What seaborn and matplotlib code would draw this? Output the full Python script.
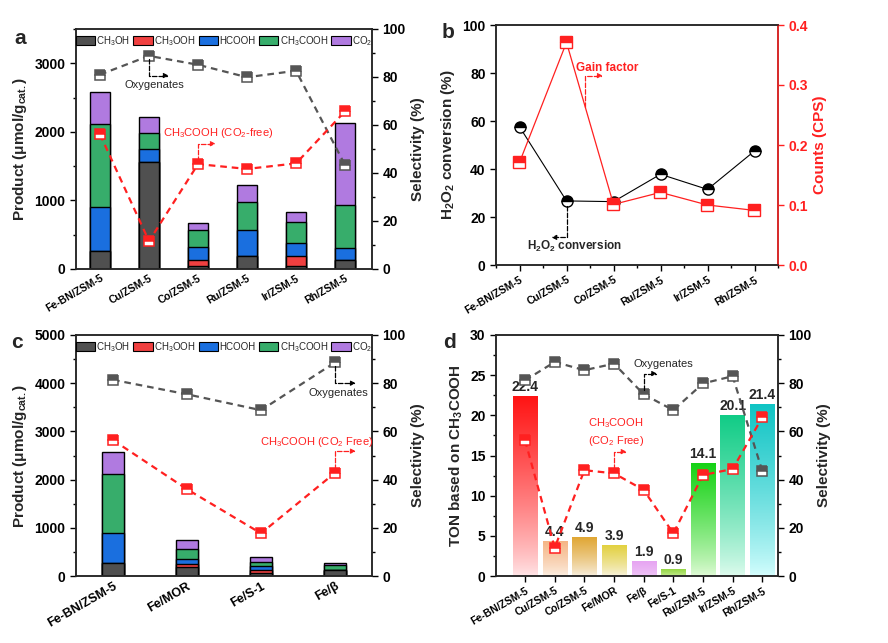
""" plot """

import matplotlib
matplotlib.use("Agg")
import matplotlib.pyplot as plt
import matplotlib.colors as mcolors
from matplotlib.patches import Patch
from matplotlib.ticker import MultipleLocator, FormatStrFormatter
import numpy as np
import seaborn as sns

# ---- data ----
a_cats = ["Fe-BN/ZSM-5", "Cu/ZSM-5", "Co/ZSM-5", "Ru/ZSM-5", "Ir/ZSM-5", "Rh/ZSM-5"]
a_ch3oh = [263, 1556, 49, 185, 49, 131]
a_ch3ooh = [0, 0, 77, 0, 136, 0]
a_hcooh = [637, 189, 190, 379, 189, 170]
a_ch3cooh = [1210, 234, 248, 408, 307, 628]
a_co2 = [472, 233, 107, 253, 146, 1196]
a_sel_oxy = [81.0, 88.8, 85.1, 79.9, 82.6, 43.3]
a_sel_acetic = [56.1, 11.6, 43.7, 41.7, 44.0, 65.7]

b_conv = [57.6, 26.7, 26.4, 37.8, 31.5, 47.5]
b_counts = [0.171, 0.371, 0.101, 0.121, 0.100, 0.091]

c_cats = ["Fe-BN/ZSM-5", "Fe/MOR", "Fe/S-1", "Fe/β"]
c_ch3oh = [263, 193, 69, 130]
c_ch3ooh = [0, 62, 55, 0]
c_hcooh = [637, 104, 90, 0]
c_ch3cooh = [1210, 207, 69, 98]
c_co2 = [472, 172, 117, 35]
c_sel_oxy = [81.4, 75.4, 68.8, 88.6]
c_sel_acetic = [56.4, 36.0, 17.7, 42.8]

d_cats = ["Fe-BN/ZSM-5", "Cu/ZSM-5", "Co/ZSM-5", "Fe/MOR", "Fe/β", "Fe/S-1",
          "Ru/ZSM-5", "Ir/ZSM-5", "Rh/ZSM-5"]
d_ton = [22.4, 4.4, 4.9, 3.9, 1.9, 0.9, 14.1, 20.1, 21.4]
d_sel_oxy = [81.2, 88.8, 85.4, 88.1, 75.4, 68.8, 79.9, 82.9, 43.6]
d_sel_acetic = [56.3, 11.7, 43.9, 42.6, 35.7, 17.7, 41.9, 44.4, 65.8]

products = ["CH$_3$OH", "CH$_3$OOH", "HCOOH", "CH$_3$COOH", "CO$_2$"]
prod_colors = ["#505050", "#f04040", "#1a6fdf", "#37ad6b", "#b07ae0"]
d_top = ["#ff1414", "#f5b483", "#e0a530", "#e2d03c", "#e6a2f2", "#8fd43c",
         "#14d214", "#10cc86", "#10c4c4"]
d_bot = ["#ffe6e8", "#fcf0e4", "#f8f0e2", "#f8f3e0", "#efc6f6", "#c6ec94",
         "#e2fbd8", "#e0fcef", "#d6fefe"]

GRAY = "#555555"
RED = "#ff2020"

sns.set_style("ticks")
plt.rcParams["font.family"] = ["Liberation Sans", "DejaVu Sans"]
plt.rcParams["mathtext.default"] = "regular"
plt.rcParams["axes.linewidth"] = 1.1

fig = plt.figure(figsize=(8.88, 6.43), dpi=100)


def px_axes(left, top, right, bottom):
    """ axes from pixel box """
    return fig.add_axes([left / 888, 1 - bottom / 643,
                         (right - left) / 888, (bottom - top) / 643])


def style_ticks(ax, color="black"):
    """ tick styling """
    ax.tick_params(which="major", length=4, width=1, direction="out",
                   labelsize=10, colors=color)
    ax.tick_params(which="minor", length=2, width=1, direction="out", colors=color)
    for lab in ax.get_yticklabels():
        lab.set_fontweight("bold")


def elbow(ax, start, end, color):
    """ dashed elbow arrow """
    ax.annotate("", xy=end, xytext=start,
                arrowprops=dict(arrowstyle="-|>", color=color, lw=0.9, ls="--",
                                mutation_scale=7, shrinkA=0, shrinkB=0,
                                connectionstyle="angle,angleA=90,angleB=0,rad=0"))


def stacked(ax, cats, layers, width):
    """ stacked bars by overdrawing cumulative sums """
    cum = np.cumsum(np.array(layers), axis=0)
    for i in range(len(layers) - 1, -1, -1):
        sns.barplot(x=cats, y=cum[i], order=cats, color=prod_colors[i], width=width,
                    saturation=1, edgecolor="black", linewidth=1, ax=ax)


def sel_lines(ax2, n, oxy, acetic):
    """ selectivity lines """
    xs = np.arange(n)
    sns.lineplot(x=xs, y=oxy, ax=ax2, color=GRAY, lw=1.6, dashes=False,
                 linestyle=(0, (3, 2.2)), marker="s", ms=7, fillstyle="top",
                 markerfacecoloralt="white", markeredgecolor=GRAY, mew=1.1)
    sns.lineplot(x=xs, y=acetic, ax=ax2, color=RED, lw=1.6, dashes=False,
                 linestyle=(0, (3, 2.2)), marker="s", ms=7, fillstyle="top",
                 markerfacecoloralt="white", markeredgecolor=RED, mew=1.1)


def prod_legend(ax):
    """ product legend """
    handles = [Patch(facecolor=c, edgecolor="black", lw=0.8) for c in prod_colors]
    ax.legend(handles, products, loc="upper center", ncol=5, frameon=False,
              fontsize=7, handlelength=2.0, handleheight=1.0, handletextpad=0.15,
              columnspacing=0.3, borderaxespad=0.3, borderpad=0.2)


def xlabels(ax, cats, pos, size=7.5):
    """ rotated category labels """
    ax.set_xticks(pos)
    ax.set_xticklabels(cats, rotation=30, ha="right", rotation_mode="anchor",
                       fontsize=size, fontweight="bold")
    ax.tick_params(axis="x", pad=3)


# ---- panel a ----
ax = px_axes(76, 29, 372, 269)
stacked(ax, a_cats, [a_ch3oh, a_ch3ooh, a_hcooh, a_ch3cooh, a_co2], 0.39)
ax.set_ylim(0, 3500)
ax.yaxis.set_major_locator(MultipleLocator(1000))
ax.yaxis.set_minor_locator(MultipleLocator(500))
ax.set_ylabel("Product (μmol/g$_{cat.}$)", fontsize=11, fontweight="bold", labelpad=4)
ax.set_xlabel("")
ax2 = ax.twinx()
sel_lines(ax2, 6, a_sel_oxy, a_sel_acetic)
ax2.set_ylim(0, 100)
ax2.yaxis.set_major_locator(MultipleLocator(20))
ax2.yaxis.set_minor_locator(MultipleLocator(10))
ax2.set_ylabel("Selectivity (%)", fontsize=11, fontweight="bold", labelpad=4)
ax.set_xlim(-0.49, 5.55)
style_ticks(ax)
style_ticks(ax2)
ax.tick_params(axis="x", length=0)
xlabels(ax, a_cats, np.arange(6))
prod_legend(ax2)
elbow(ax2, (1.0, 87.3), (1.4, 80.6), "black")
ax2.text(1.1, 76.5, "Oxygenates", fontsize=8, ha="center", va="center")
elbow(ax2, (2.0, 45.2), (2.36, 52.2), RED)
ax2.text(2.42, 56.8, "CH$_3$COOH (CO$_2$-free)", fontsize=8, color=RED,
         ha="center", va="center")

# ---- panel b ----
ax = px_axes(496, 25, 778, 265)
xs = np.arange(6)
sns.lineplot(x=xs, y=b_conv, ax=ax, color="black", lw=0.8, marker="o", ms=8,
             fillstyle="top", markerfacecoloralt="white", markeredgecolor="black",
             mew=1)
ax.set_ylim(0, 100)
ax.yaxis.set_major_locator(MultipleLocator(20))
ax.set_ylabel("H$_2$O$_2$ conversion (%)", fontsize=11, fontweight="bold", labelpad=4)
ax2 = ax.twinx()
sns.lineplot(x=xs, y=b_counts, ax=ax2, color=RED, lw=0.9, marker="s", ms=8,
             fillstyle="top", markerfacecoloralt="white", markeredgecolor=RED, mew=1)
ax2.set_ylim(0, 0.4)
ax2.yaxis.set_major_locator(MultipleLocator(0.1))
ax2.yaxis.set_major_formatter(FormatStrFormatter("%.1f"))
ax2.set_ylabel("Counts (CPS)", fontsize=11, fontweight="bold", color=RED, labelpad=4)
ax2.spines["right"].set_color(RED)
ax.set_xlim(-0.5, 5.5)
ax.xaxis.set_minor_locator(MultipleLocator(0.5))
style_ticks(ax)
style_ticks(ax2, RED)
xlabels(ax, a_cats, xs)
elbow(ax, (1.0, 24.5), (0.68, 11.5), "black")
ax.text(1.17, 7.9, "H$_2$O$_2$ conversion", fontsize=8.5, fontweight="bold",
        ha="center", va="center")
elbow(ax, (1.4, 66.0), (1.77, 78.9), RED)
ax.text(1.87, 82.0, "Gain factor", fontsize=8.5, fontweight="bold", color=RED,
        ha="center", va="center")

# ---- panel c ----
ax = px_axes(76, 335, 372, 576)
stacked(ax, c_cats, [c_ch3oh, c_ch3ooh, c_hcooh, c_ch3cooh, c_co2], 0.31)
ax.set_ylim(0, 5000)
ax.yaxis.set_major_locator(MultipleLocator(1000))
ax.yaxis.set_minor_locator(MultipleLocator(500))
ax.set_ylabel("Product (μmol/g$_{cat.}$)", fontsize=11, fontweight="bold", labelpad=4)
ax.set_xlabel("")
ax2 = ax.twinx()
sel_lines(ax2, 4, c_sel_oxy, c_sel_acetic)
ax2.set_ylim(0, 100)
ax2.yaxis.set_major_locator(MultipleLocator(20))
ax2.yaxis.set_minor_locator(MultipleLocator(10))
ax2.set_ylabel("Selectivity (%)", fontsize=11, fontweight="bold", labelpad=4)
ax.set_xlim(-0.5, 3.5)
style_ticks(ax)
style_ticks(ax2)
ax.tick_params(axis="x", length=0)
xlabels(ax, c_cats, np.arange(4), size=9)
prod_legend(ax2)
elbow(ax2, (3.0, 87.0), (3.28, 80.0), "black")
ax2.text(3.05, 76.0, "Oxygenates", fontsize=8, ha="center", va="center")
elbow(ax2, (3.0, 44.6), (3.28, 51.8), RED)
ax2.text(2.75, 55.4, "CH$_3$COOH (CO$_2$ Free)", fontsize=8, color=RED,
         ha="center", va="center")

# ---- panel d ----
ax = px_axes(496, 335, 778, 576)
sns.barplot(x=d_cats, y=d_ton, order=d_cats, hue=d_cats, palette=d_top,
            width=0.82, saturation=1, legend=False, ax=ax)
ax.set_xlim(-0.98, 8.53)
ax.set_ylim(0, 30)
for patch, top, bot, val in zip(ax.patches, d_top, d_bot, d_ton):
    x0, y0 = patch.get_x(), patch.get_y()
    w, h = patch.get_width(), patch.get_height()
    c0 = np.array(mcolors.to_rgba(bot))
    c1 = np.array(mcolors.to_rgba(top))
    t = np.linspace(0, 1, 128) ** 0.8
    grad = (c0[None, :] * (1 - t[:, None]) + c1[None, :] * t[:, None])[:, None, :]
    patch.set_facecolor("none")
    patch.set_edgecolor("none")
    im = ax.imshow(grad, extent=[x0, x0 + w, y0, y0 + h], origin="lower",
                   aspect="auto", zorder=1)
    im.set_clip_path(patch)
    ax.text(x0 + w / 2, y0 + h + 0.2, f"{val:.1f}", ha="center", va="bottom",
            fontsize=10, fontweight="bold")
ax.set_xlim(-0.98, 8.53)
ax.set_ylim(0, 30)
ax.yaxis.set_major_locator(MultipleLocator(5))
ax.yaxis.set_minor_locator(MultipleLocator(2.5))
ax.set_ylabel("TON based on CH$_3$COOH", fontsize=11, fontweight="bold", labelpad=4)
ax.set_xlabel("")
ax2 = ax.twinx()
sel_lines(ax2, 9, d_sel_oxy, d_sel_acetic)
ax2.set_ylim(0, 100)
ax2.yaxis.set_major_locator(MultipleLocator(20))
ax2.yaxis.set_minor_locator(MultipleLocator(10))
ax2.set_ylabel("Selectivity (%)", fontsize=11, fontweight="bold", labelpad=4)
ax.set_xlim(-0.98, 8.53)
style_ticks(ax)
style_ticks(ax2)
xlabels(ax, d_cats, np.arange(9), size=7.5)
elbow(ax2, (4.0, 77.3), (4.45, 84.0), "black")
ax2.text(4.65, 88.0, "Oxygenates", fontsize=8, ha="center", va="center")
elbow(ax2, (3.0, 44.5), (3.42, 51.6), RED)
ax2.text(3.07, 63.3, "CH$_3$COOH", fontsize=8, color=RED, ha="center", va="center")
ax2.text(3.07, 55.9, "(CO$_2$ Free)", fontsize=8, color=RED, ha="center", va="center")

# ---- panel letters ----
for lx, ly, letter in [(20, 38, "a"), (448, 33, "b"), (17, 342, "c"), (449, 342, "d")]:
    fig.text(lx / 888, 1 - ly / 643, letter, fontsize=15, fontweight="bold",
             ha="center", va="center")

fig.savefig("out.png", dpi=100)
